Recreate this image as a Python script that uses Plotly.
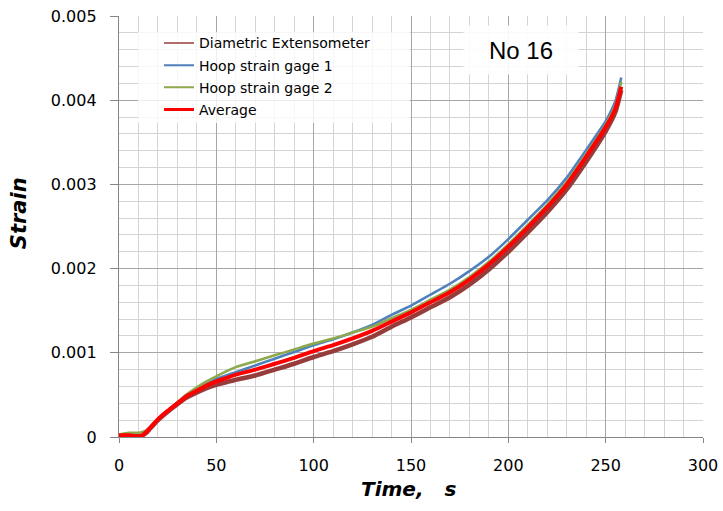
import plotly.graph_objects as go

# ---- data ----
time_s = [0, 5, 10, 12, 14, 16, 20, 25, 30, 35, 40, 45, 50, 55, 60, 70, 80, 90, 100,
          110, 120, 130, 140, 150, 160, 170, 180, 190, 200, 210, 220, 230, 240, 250, 255, 258]

diametric = [0.00002, 0.00002, 0.00001, 0.00002, 0.00005, 0.00010, 0.00020, 0.00030, 0.00039,
             0.00047, 0.00053, 0.00058, 0.00062, 0.00065, 0.00068, 0.00073, 0.00080, 0.00087,
             0.00095, 0.00102, 0.00110, 0.00119, 0.00131, 0.00142, 0.00154, 0.00166, 0.00181,
             0.00199, 0.00220, 0.00243, 0.00267, 0.00294, 0.00327, 0.00363, 0.00386, 0.00412]

hoop1 = [0.00001, 0.00001, 0.00000, 0.00002, 0.00006, 0.00011, 0.00021, 0.00031, 0.00041,
         0.00050, 0.00057, 0.00063, 0.00069, 0.00073, 0.00077, 0.00085, 0.00093, 0.00101,
         0.00109, 0.00116, 0.00124, 0.00133, 0.00145, 0.00156, 0.00169, 0.00182, 0.00197,
         0.00214, 0.00235, 0.00258, 0.00281, 0.00308, 0.00341, 0.00375, 0.00399, 0.00427]

hoop2 = [0.00003, 0.00005, 0.00005, 0.00006, 0.00008, 0.00012, 0.00021, 0.00031, 0.00041,
         0.00051, 0.00059, 0.00066, 0.00072, 0.00078, 0.00083, 0.00090, 0.00097, 0.00104,
         0.00111, 0.00117, 0.00124, 0.00131, 0.00141, 0.00151, 0.00163, 0.00175, 0.00190,
         0.00208, 0.00229, 0.00252, 0.00276, 0.00303, 0.00336, 0.00371, 0.00394, 0.00422]

average = [0.00002, 0.00002, 0.00001, 0.00002, 0.00006, 0.00011, 0.00021, 0.00031, 0.00040,
           0.00049, 0.00055, 0.00061, 0.00066, 0.00070, 0.00074, 0.00080, 0.00087, 0.00094,
           0.00102, 0.00109, 0.00117, 0.00126, 0.00137, 0.00148, 0.00160, 0.00172, 0.00187,
           0.00205, 0.00226, 0.00249, 0.00273, 0.00300, 0.00333, 0.00368, 0.00390, 0.00416]

series_names = ["Diametric Extensometer", "Hoop strain gage 1", "Hoop strain gage 2", "Average"]
x_tick_vals = [0, 50, 100, 150, 200, 250, 300]
y_tick_vals = [0, 0.001, 0.002, 0.003, 0.004, 0.005]
y_tick_text = ["0", "0.001", "0.002", "0.003", "0.004", "0.005"]

colors = ["#963C3A", "#4F81BD", "#8DA94C", "#FF0000"]
plot_widths = [4.5, 2.6, 2.6, 4.0]
legend_widths = [1.5, 2.0, 2.0, 3.0]
series = [diametric, hoop1, hoop2, average]

fig = go.Figure()
for name, ys, c, w in zip(series_names, series, colors, plot_widths):
    fig.add_trace(go.Scatter(x=time_s, y=ys, mode="lines", name=name,
                             line=dict(color=c, width=w, shape="spline", smoothing=0.5),
                             showlegend=False, hoverinfo="skip"))
for i, (name, c, w) in enumerate(zip(series_names, colors, legend_widths)):
    fig.add_trace(go.Scatter(x=[None], y=[None], mode="lines", name=name,
                             line=dict(color=c, width=w), legendgroup=str(i),
                             showlegend=True))

FONT = "DejaVu Sans"
fig.update_layout(
    width=723, height=511,
    margin=dict(l=119, r=20, t=16, b=74, autoexpand=False),
    paper_bgcolor="white", plot_bgcolor="white",
    font=dict(family=FONT, size=16, color="#000000"),
    showlegend=True,
    legend=dict(x=0.0685, y=0.973, xanchor="left", yanchor="top",
                bgcolor="rgba(0,0,0,0)", borderwidth=0,
                font=dict(family=FONT, size=14, color="#000000"),
                tracegroupgap=1),
    shapes=[dict(type="rect", xref="paper", yref="paper",
                 x0=0.0325, x1=0.498, y0=0.746, y1=0.962,
                 fillcolor="rgba(255,255,255,0.8)", line=dict(width=0), layer="above")],
    annotations=[
        dict(text="No 16", xref="paper", yref="paper", x=0.688, y=0.919,
             xanchor="center", yanchor="middle", showarrow=False,
             font=dict(family="Liberation Sans", size=24, color="#000000"),
             bgcolor="rgba(255,255,255,0.9)", width=112, height=46),
        dict(text="<b><i>Time,\u00a0\u00a0\u00a0s</i></b>", xref="paper", yref="paper",
             x=0.495, y=-0.123, xanchor="center", yanchor="middle", showarrow=False,
             font=dict(family=FONT, size=20, color="#000000")),
        dict(text="<b><i>Strain</i></b>", xref="paper", yref="paper",
             x=-0.171, y=0.532, xanchor="center", yanchor="middle", showarrow=False,
             textangle=-90, font=dict(family=FONT, size=21, color="#000000")),
    ],
)

fig.update_xaxes(
    range=[0, 300], tickvals=x_tick_vals, automargin=False,
    showgrid=True, gridcolor="#A6A6A6", gridwidth=1,
    minor=dict(dtick=10, showgrid=True, gridcolor="#D4D4D4", gridwidth=1),
    showline=True, linecolor="#868686", linewidth=1.3,
    ticks="outside", ticklen=5, tickcolor="#868686",
    zeroline=False, ticklabelstandoff=9,
    tickfont=dict(family=FONT, size=16),
)
fig.update_yaxes(
    range=[0, 0.005], tickvals=y_tick_vals, ticktext=y_tick_text, automargin=False,
    showgrid=True, gridcolor="#A6A6A6", gridwidth=1,
    minor=dict(dtick=0.0002, showgrid=True, gridcolor="#D4D4D4", gridwidth=1),
    showline=True, linecolor="#868686", linewidth=1.3,
    ticks="outside", ticklen=8, tickcolor="#868686",
    zeroline=False, ticklabelstandoff=10,
    tickfont=dict(family=FONT, size=16),
)

fig.write_html("out.html")
